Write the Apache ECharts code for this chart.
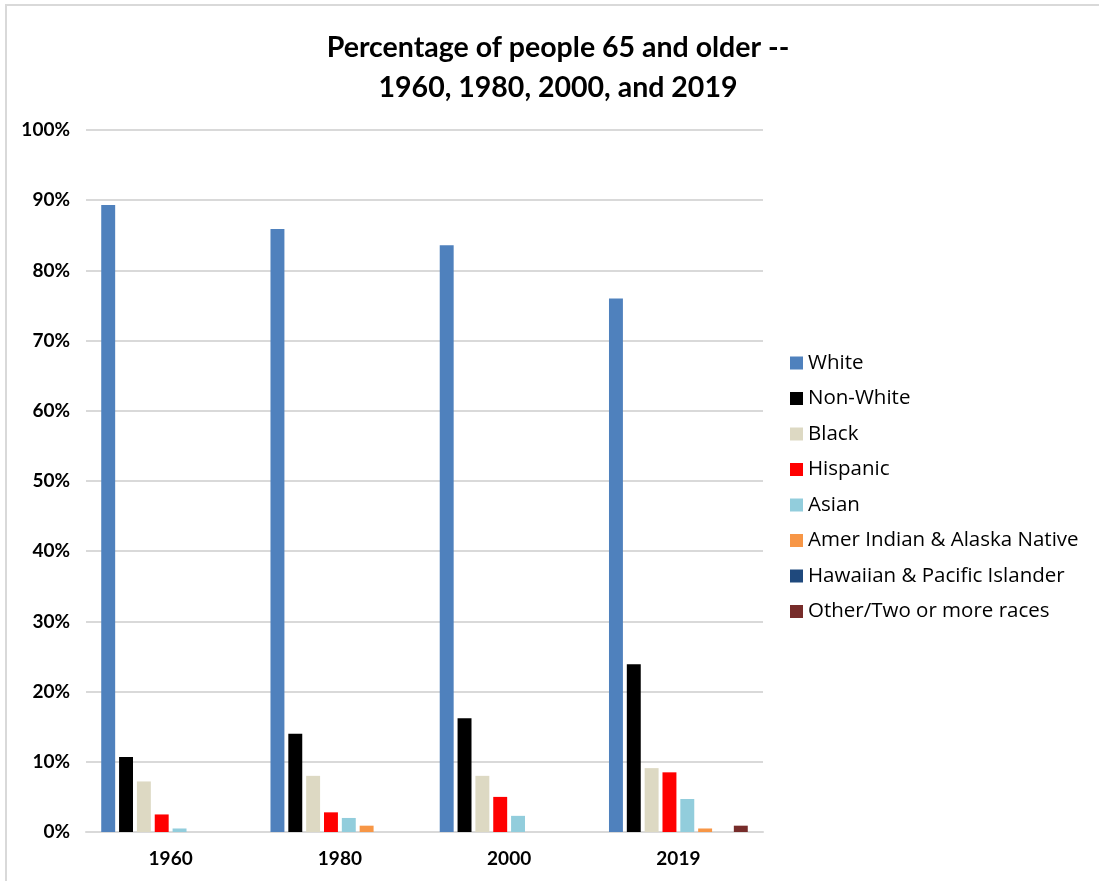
<!DOCTYPE html>
<html>
<head>
<meta charset="utf-8">
<script src="https://cdn.jsdelivr.net/npm/echarts@6/dist/echarts.min.js"></script>
<style>
html,body{margin:0;padding:0;background:#fff;}
#frame{position:absolute;left:0;top:0;width:1099px;height:881px;}
#chart{position:absolute;left:0;top:0;width:1099px;height:881px;}
#edge{position:absolute;left:5px;top:4px;width:1094px;height:877px;border-top:2px solid #d9d9d9;border-left:2px solid #d9d9d9;box-sizing:border-box;pointer-events:none;}
</style>
</head>
<body>
<div id="frame"><div id="chart"></div><div id="edge"></div></div>
<script>
var years = ['1960', '1980', '2000', '2019'];
var seriesNames = ['White', 'Non-White', 'Black', 'Hispanic', 'Asian', 'Amer Indian & Alaska Native', 'Hawaiian & Pacific Islander', 'Other/Two or more races'];
var white = [89.3, 85.9, 83.6, 76.0];
var nonWhite = [10.7, 14.0, 16.2, 23.9];
var black = [7.2, 8.0, 8.0, 9.1];
var hispanic = [2.5, 2.8, 5.0, 8.5];
var asian = [0.5, 2.0, 2.3, 4.7];
var amerIndian = [null, 0.9, null, 0.5];
var hawaiian = [null, null, null, 0];
var other = [null, null, null, 0.9];
var colors = ['#4f81bd', '#000000', '#ddd9c3', '#ff0000', '#92cddc', '#f79646', '#1f497d', '#772c2a'];
var seriesData = [white, nonWhite, black, hispanic, asian, amerIndian, hawaiian, other];

var FONT = 'Lato, "Open Sans", sans-serif';
var chart = echarts.init(document.getElementById('chart'), null, {renderer: 'canvas'});
var series = seriesNames.map(function (n, i) {
  return {
    name: n,
    type: 'bar',
    data: seriesData[i],
    barGap: '28%',
    barCategoryGap: '18%',
    itemStyle: {color: colors[i]}
  };
});
chart.setOption({
  animation: false,
  backgroundColor: '#fff',
  title: {
    text: 'Percentage of people 65 and older --\n1960, 1980, 2000, and 2019',
    left: 553,
    textAlign: 'center',
    top: 23,
    textStyle: {fontFamily: FONT, fontWeight: 'bold', fontSize: 28.5, color: '#000', lineHeight: 40}
  },
  legend: {
    orient: 'vertical',
    left: 785,
    top: 347,
    itemWidth: 13,
    itemHeight: 13,
    itemGap: 13.5,
    icon: 'rect',
    textStyle: {fontFamily: '"Open Sans", sans-serif', fontSize: 20.5, lineHeight: 22, color: '#000'},
    data: seriesNames
  },
  grid: {left: 86, right: 336, top: 130, bottom: 49, containLabel: false},
  xAxis: {
    type: 'category',
    data: years,
    axisLine: {lineStyle: {color: '#d9d9d9', width: 2}},
    axisTick: {show: false},
    axisLabel: {fontFamily: FONT, fontWeight: 'bold', fontSize: 19, color: '#000', margin: 17}
  },
  yAxis: {
    type: 'value',
    min: 0, max: 100, interval: 10,
    axisLine: {show: false},
    axisTick: {show: false},
    splitLine: {lineStyle: {color: '#d9d9d9', width: 2}},
    axisLabel: {fontFamily: FONT, fontWeight: 'bold', fontSize: 19, color: '#000', margin: 16,
      formatter: function (v) { return v + '%'; }}
  },
  series: series
});
</script>
</body>
</html>
